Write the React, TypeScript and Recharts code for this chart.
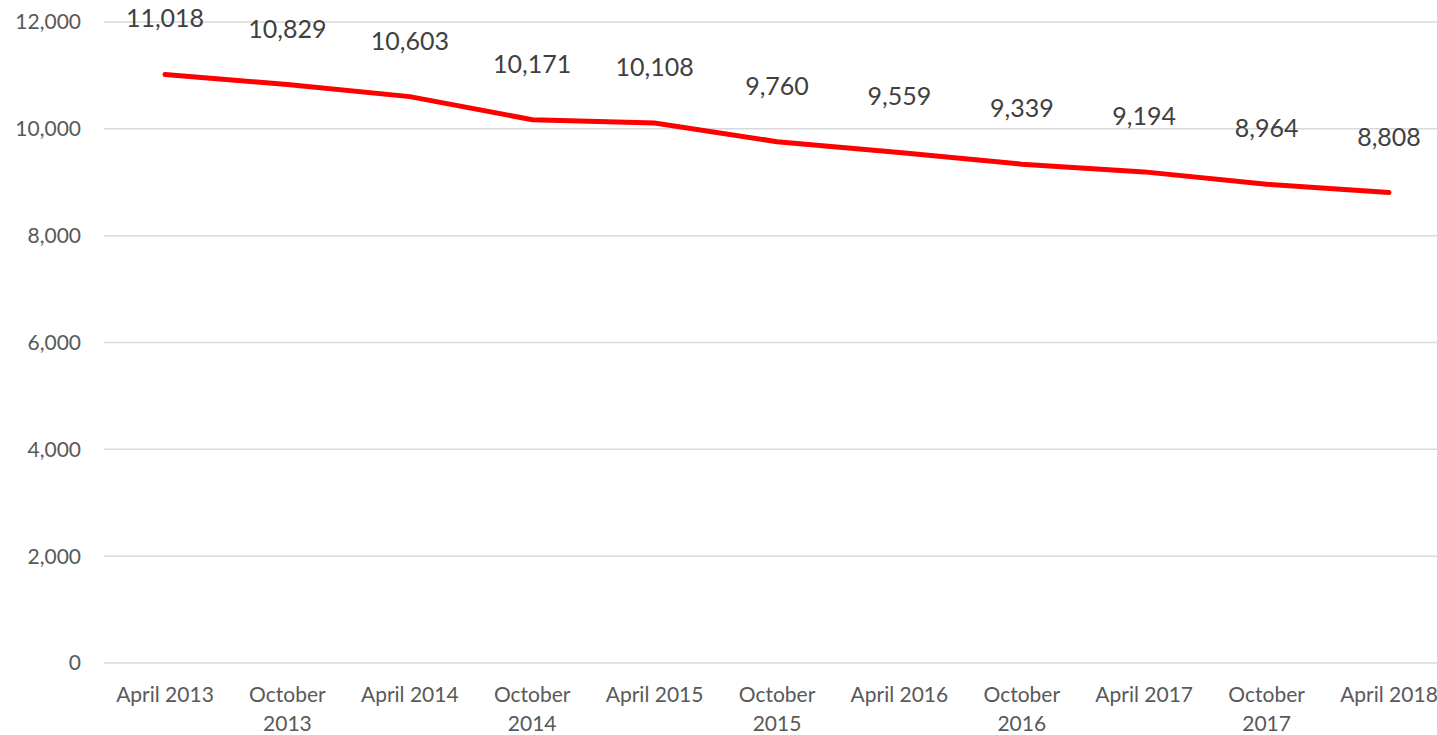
import React from "react";
import { LineChart, Line, XAxis, YAxis, CartesianGrid, LabelList } from "recharts";

const categories = [
  "April 2013",
  "October 2013",
  "April 2014",
  "October 2014",
  "April 2015",
  "October 2015",
  "April 2016",
  "October 2016",
  "April 2017",
  "October 2017",
  "April 2018",
];
const values = [11018, 10829, 10603, 10171, 10108, 9760, 9559, 9339, 9194, 8964, 8808];
const yTicks = [0, 2000, 4000, 6000, 8000, 10000, 12000];

const data = categories.map((c, i) => ({ name: c, value: values[i] }));

const FONT = "Lato, 'Open Sans', sans-serif";
const fmt = (v: number) => v.toLocaleString("en-US");

const splitLabel = (s: string): string[] => {
  if (s.length <= 10) return [s];
  const i = s.lastIndexOf(" ");
  return i > 0 ? [s.slice(0, i), s.slice(i + 1)] : [s];
};

const XTick = (props: any) => {
  const { x, y, payload } = props;
  const lines = splitLabel(String(payload.value));
  return (
    <text
      x={x}
      y={y + 39}
      textAnchor="middle"
      fill="#595959"
      fontSize={21}
      fontFamily={FONT}
    >
      {lines.map((l, i) => (
        <tspan key={i} x={x} dy={i === 0 ? 0 : 29}>
          {l}
        </tspan>
      ))}
    </text>
  );
};

const DataLabel = (props: any) => {
  const { x, y, value } = props;
  return (
    <text
      x={x}
      y={y - 47}
      textAnchor="middle"
      fill="#404040"
      fontSize={25}
      fontFamily={FONT}
    >
      {fmt(value)}
    </text>
  );
};

export default function App() {
  return (
    <div
      style={{
        position: "absolute",
        left: 0,
        top: 0,
        width: 1437,
        height: 735,
        overflow: "hidden",
        background: "#fff",
      }}
    >
      <LineChart
        width={1460}
        height={735}
        data={data}
        margin={{ top: 22, right: 10, bottom: 0, left: 0 }}
      >
        <CartesianGrid vertical={false} stroke="#d9d9d9" strokeWidth={1.5} />
        <XAxis
          dataKey="name"
          axisLine={false}
          tickLine={false}
          tickSize={0}
          tickMargin={0}
          height={72}
          interval={0}
          padding={{ left: 61, right: 61 }}
          tick={<XTick />}
        />
        <YAxis
          width={104}
          domain={[0, 12000]}
          ticks={yTicks}
          axisLine={false}
          tickLine={false}
          tickSize={0}
          tickMargin={23}
          tickFormatter={fmt}
          tick={{ fill: "#595959", fontSize: 21, fontFamily: FONT }}
        />
        <Line
          type="linear"
          dataKey="value"
          stroke="#ff0000"
          strokeWidth={5}
          strokeLinecap="round"
          dot={false}
          activeDot={false}
          isAnimationActive={false}
        >
          <LabelList dataKey="value" content={<DataLabel />} />
        </Line>
      </LineChart>
    </div>
  );
}
